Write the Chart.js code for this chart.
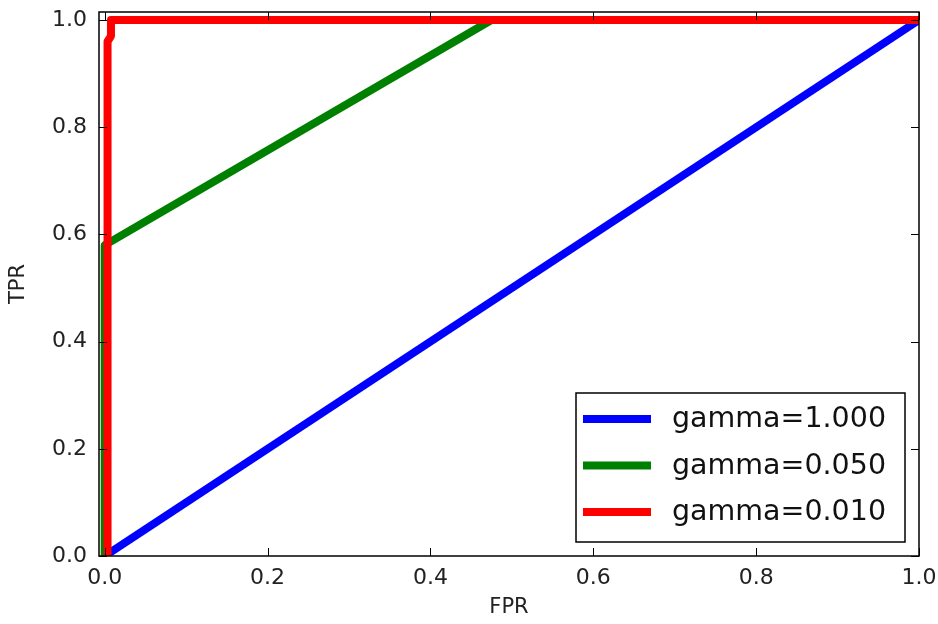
<!DOCTYPE html>
<html>
<head>
<meta charset="utf-8">
<script src="https://cdn.jsdelivr.net/npm/chart.js@4.4.1/dist/chart.umd.min.js"></script>
<style>
  html, body { margin: 0; padding: 0; background: #fff; }
  #roc-canvas { display: block; }
</style>
</head>
<body>
<canvas id="roc-canvas" width="938" height="624"></canvas>
<script>
const rocCanvas = document.querySelector("#roc-canvas");

// ROC curves, one pair of arrays per gamma
const gammaLabels = ["gamma=1.000", "gamma=0.050", "gamma=0.010"];
const gammaColors = ["#0000ff", "#008000", "#ff0000"];

const fprGamma1 = [0, 1];
const tprGamma1 = [0, 1];

const fprGamma005 = [0, 0, 0.475, 1];
const tprGamma005 = [0, 0.58, 1, 1];

const fprGamma001 = [0.0035, 0.0035, 0.0077, 0.0077, 1];
const tprGamma001 = [0, 0.96, 0.97, 1, 1];

const xTicks = [0, 0.2, 0.4, 0.6, 0.8, 1.0];
const yTicks = [0, 0.2, 0.4, 0.6, 0.8, 1.0];

function toPoints(xs, ys) {
  return xs.map((x, i) => ({ x: x, y: ys[i] }));
}

const FONT = "'DejaVu Sans', sans-serif";

// frame + inward ticks on all four sides, like the classic matplotlib look
const framePlugin = {
  id: "frame",
  afterDraw(chart) {
    const { ctx, chartArea: a, scales } = chart;
    const len = 8;
    ctx.save();
    ctx.strokeStyle = "#000";
    ctx.lineWidth = 1;
    ctx.beginPath();
    xTicks.forEach((v) => {
      const px = Math.round(scales.x.getPixelForValue(v)) + 0.5;
      ctx.moveTo(px, a.bottom); ctx.lineTo(px, a.bottom - len);
      ctx.moveTo(px, a.top); ctx.lineTo(px, a.top + len);
    });
    yTicks.forEach((v) => {
      const py = Math.round(scales.y.getPixelForValue(v)) + 0.5;
      ctx.moveTo(a.left, py); ctx.lineTo(a.left + len, py);
      ctx.moveTo(a.right, py); ctx.lineTo(a.right - len, py);
    });
    ctx.stroke();
    ctx.lineWidth = 1.5;
    ctx.strokeRect(a.left, a.top, a.right - a.left, a.bottom - a.top);
    ctx.restore();
  },
};

// legend box in the lower right corner of the plot
const boxLegendPlugin = {
  id: "boxLegend",
  afterDraw(chart) {
    const { ctx, chartArea: a } = chart;
    const w = 329, h = 149;
    const left = a.right - 14 - w;
    const top = a.bottom - 14 - h;
    ctx.save();
    ctx.fillStyle = "#fff";
    ctx.fillRect(left, top, w, h);
    ctx.strokeStyle = "#000";
    ctx.lineWidth = 1.5;
    ctx.strokeRect(left, top, w, h);
    ctx.font = "28.5px " + FONT;
    ctx.textBaseline = "middle";
    ctx.textAlign = "left";
    gammaLabels.forEach((label, i) => {
      const cy = top + 26 + i * 46.5;
      ctx.strokeStyle = gammaColors[i];
      ctx.lineWidth = 8;
      ctx.beginPath();
      ctx.moveTo(left + 7, cy);
      ctx.lineTo(left + 75, cy);
      ctx.stroke();
      ctx.fillStyle = "#111";
      ctx.fillText(label, left + 96, cy + 1);
    });
    ctx.restore();
  },
};

const data = {
  datasets: [
    {
      label: gammaLabels[0],
      data: toPoints(fprGamma1, tprGamma1),
      borderColor: gammaColors[0],
      order: 2,
    },
    {
      label: gammaLabels[1],
      data: toPoints(fprGamma005, tprGamma005),
      borderColor: gammaColors[1],
      order: 1,
    },
    {
      label: gammaLabels[2],
      data: toPoints(fprGamma001, tprGamma001),
      borderColor: gammaColors[2],
      order: 0,
    },
  ],
};

new Chart(rocCanvas, {
  type: "line",
  data: data,
  plugins: [framePlugin, boxLegendPlugin],
  options: {
    responsive: false,
    animation: false,
    layout: { padding: { top: 12, right: 19, left: 0, bottom: 0 } },
    elements: {
      line: { borderWidth: 8, tension: 0, fill: false, borderJoinStyle: "round" },
      point: { radius: 0 },
    },
    datasets: { line: { clip: 0 } },
    plugins: { legend: { display: false }, tooltip: { enabled: false } },
    scales: {
      x: {
        type: "linear",
        min: -0.007,
        max: 1,
        grid: { display: false, drawTicks: false },
        border: { display: false },
        afterBuildTicks: (scale) => { scale.ticks = xTicks.map((v) => ({ value: v })); },
        afterFit: (scale) => {
          scale.height = 68;
          scale.paddingLeft = 0;
          scale.paddingRight = 0;
        },
        ticks: {
          padding: 9,
          color: "#222",
          font: { family: FONT, size: 22 },
          callback: (v) => Number(v).toFixed(1),
        },
        title: {
          display: true,
          text: "FPR",
          color: "#222",
          font: { family: FONT, size: 21 },
          padding: { top: 0, bottom: 4 },
        },
      },
      y: {
        type: "linear",
        min: 0,
        max: 1.015,
        grid: { display: false, drawTicks: false },
        border: { display: false },
        afterBuildTicks: (scale) => { scale.ticks = yTicks.map((v) => ({ value: v })); },
        afterFit: (scale) => {
          scale.width = 99;
          scale.paddingTop = 0;
          scale.paddingBottom = 0;
        },
        ticks: {
          padding: 12,
          color: "#222",
          font: { family: FONT, size: 22 },
          callback: (v) => Number(v).toFixed(1),
        },
        title: {
          display: true,
          text: "TPR",
          color: "#222",
          font: { family: FONT, size: 21 },
          padding: { top: 6, bottom: 0 },
        },
      },
    },
  },
});
</script>
</body>
</html>
